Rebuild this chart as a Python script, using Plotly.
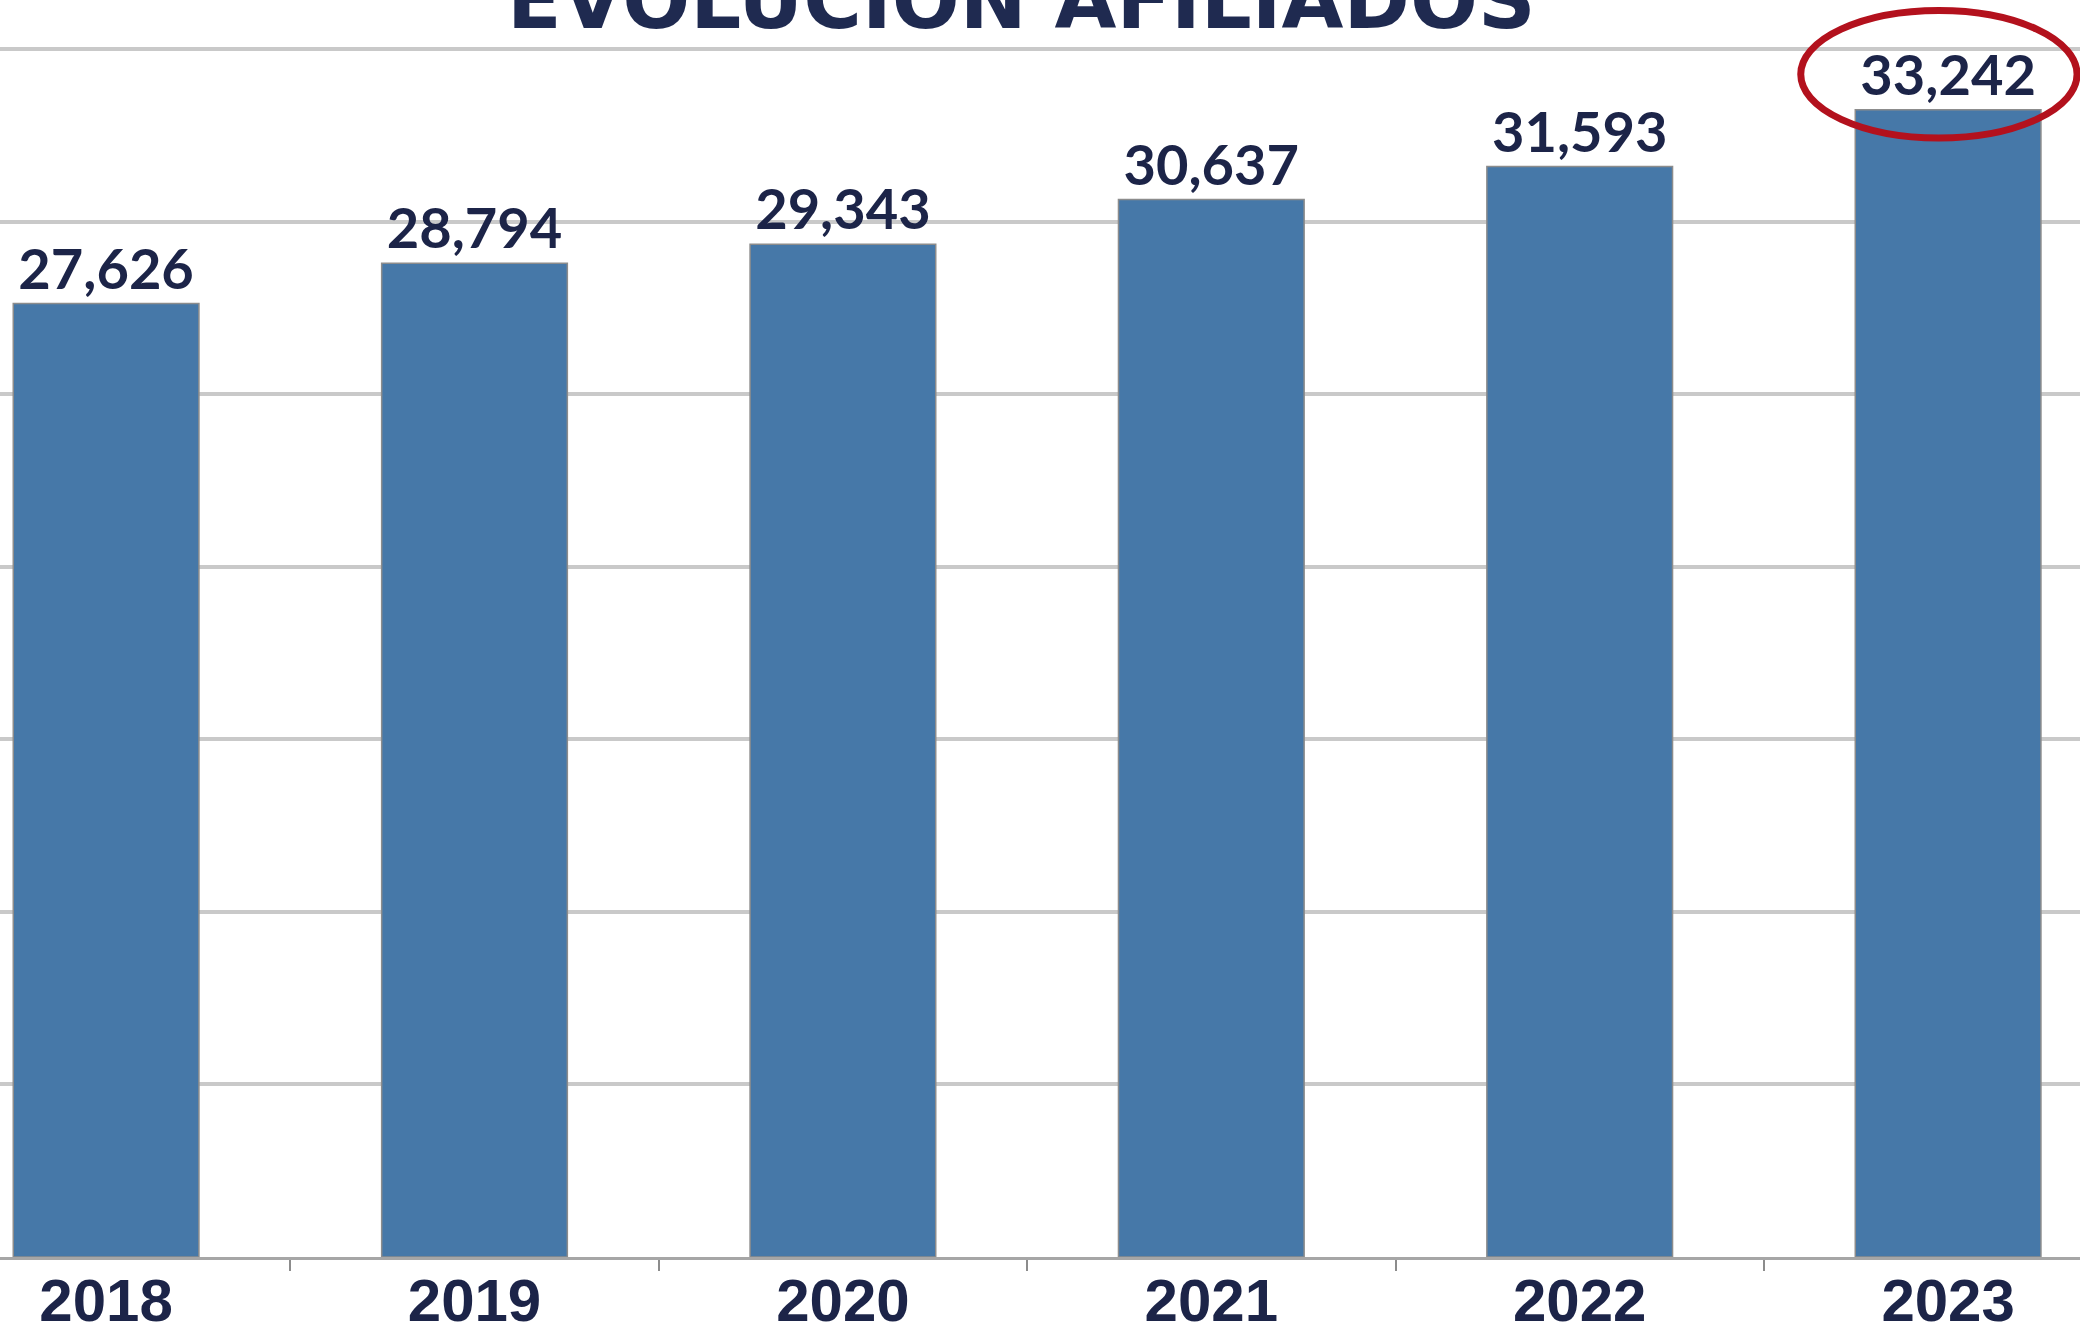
import plotly.graph_objects as go

years = ["2018", "2019", "2020", "2021", "2022", "2023"]
afiliados = [27626, 28794, 29343, 30637, 31593, 33242]
title_text = "EVOLUCIÓN AFILIADOS"

BAR = "#4678a8"
NAVY = "#1c2448"
GRID = "#c9c9c9"

labels = [f"{v:,}" for v in afiliados]

fig = go.Figure()
fig.add_trace(go.Bar(
    x=years,
    y=afiliados,
    width=0.504,
    marker=dict(color=BAR, line=dict(color="#8c8c8c", width=1.5)),
    text=labels,
    textposition="outside",
    cliponaxis=False,
    textfont=dict(family="Lato", size=56, color=NAVY, weight="bold"),
))

# highlight ellipse around the last value
hi = len(afiliados) - 1
hv = afiliados[hi]
fig.add_shape(type="circle", xref="x", yref="y",
              x0=hi - 0.40, x1=hi + 0.35, y0=hv - 820, y1=hv + 2873,
              line=dict(color="#b3111d", width=7), layer="above")

fig.add_annotation(text=title_text, xref="paper", yref="paper",
                   x=1021 / 2080, y=0.961, xanchor="center", yanchor="bottom",
                   showarrow=False,
                   font=dict(family="DejaVu Sans", size=80, color="#1f2a50", weight="bold"))

fig.update_layout(
    width=2080, height=1337,
    margin=dict(l=0, r=0, t=0, b=80),
    paper_bgcolor="white", plot_bgcolor="white",
    showlegend=False,
    bargap=0.5,
)
fig.update_xaxes(
    type="category",
    range=[-0.288, 5.358],
    tickfont=dict(family="Liberation Sans", size=60, color=NAVY, weight="bold"),
    ticklabelstandoff=-11,
    showgrid=False, showline=True, linecolor="#a6a6a6", linewidth=3,
    ticks="outside", tickson="boundaries", ticklen=11, tickwidth=2, tickcolor="#8c8c8c",
    automargin=False, fixedrange=True,
)
fig.update_yaxes(
    range=[0, 36420], dtick=5000, showticklabels=False,
    showgrid=True, gridcolor=GRID, gridwidth=4,
    zeroline=False, showline=False, automargin=False,
)

fig.write_html(
    "out.html",
    config={"displayModeBar": False},
    post_script="document.body.style.margin='0';document.body.style.overflow='hidden';"
                "document.documentElement.style.overflow='hidden';",
)
